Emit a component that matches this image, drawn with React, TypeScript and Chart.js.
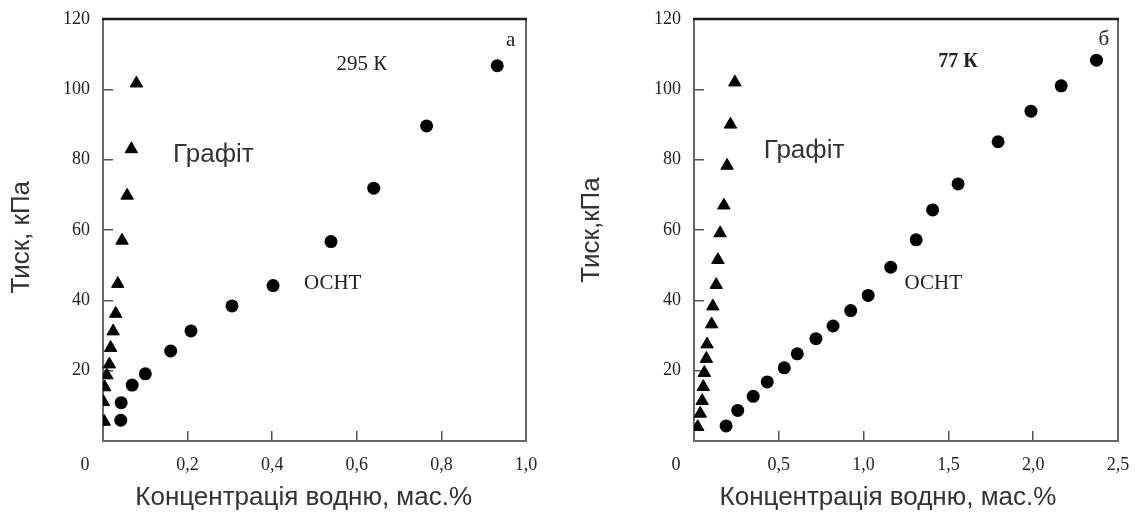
import React, { useEffect, useRef } from 'react';
import { Chart, registerables } from 'chart.js';

Chart.register(...registerables);

// ---- Panel a (295 K) ----
const graphiteA_x = [0.003, 0.001, 0.004, 0.009, 0.015, 0.018, 0.024, 0.030, 0.035, 0.045, 0.057, 0.067, 0.079];
const graphiteA_y = [5.5, 11.1, 15.3, 18.7, 21.8, 26.5, 31.2, 36.2, 44.7, 57.0, 69.8, 83.0, 101.7];
const osntA_x = [0.042, 0.043, 0.069, 0.100, 0.160, 0.208, 0.305, 0.402, 0.539, 0.640, 0.765, 0.932];
const osntA_y = [5.9, 10.9, 15.9, 19.1, 25.6, 31.3, 38.4, 44.2, 56.7, 71.9, 89.6, 106.7];

// ---- Panel б (77 K) ----
const graphiteB_x = [0.022, 0.037, 0.048, 0.055, 0.061, 0.073, 0.077, 0.104, 0.111, 0.131, 0.141, 0.154, 0.176, 0.195, 0.215, 0.241];
const graphiteB_y = [4.0, 7.8, 11.4, 15.4, 19.4, 23.4, 27.5, 33.2, 38.3, 44.4, 51.5, 59.1, 67.0, 78.3, 90.0, 102.0];
const osntB_x = [0.189, 0.258, 0.349, 0.432, 0.532, 0.609, 0.719, 0.820, 0.924, 1.027, 1.160, 1.310, 1.407, 1.557, 1.793, 1.987, 2.165, 2.373];
const osntB_y = [4.3, 8.7, 12.7, 16.8, 20.8, 24.8, 29.1, 32.7, 37.1, 41.4, 49.4, 57.2, 65.7, 73.1, 85.1, 93.8, 101.0, 108.3];

// axis ranges / ticks
const yMax = 120;
const yStep = 20;
const xMaxA = 1.0;
const xStepA = 0.2;
const xMaxB = 2.5;
const xStepB = 0.5;

// axis titles
const xTitle = 'Концентрація водню, мас.%';
const yTitleA = 'Тиск, кПа';
const yTitleB = 'Тиск,кПа';

// annotations: [text, x, y, kind]
const notesA: [string, number, number, string][] = [
  ['295 К', 0.612, 107.2, 'serif'],
  ['а', 0.964, 113.8, 'serif'],
  ['Графіт', 0.261, 81.5, 'sans'],
  ['ОСНТ', 0.543, 44.7, 'serifL'],
];
const notesB: [string, number, number, string][] = [
  ['77 К', 1.557, 107.7, 'serifBold'],
  ['б', 2.416, 114.3, 'serif'],
  ['Графіт', 0.649, 82.4, 'sans'],
  ['ОСНТ', 1.411, 44.7, 'serifL'],
];

const pts = (xs: number[], ys: number[]) => xs.map((x, i) => ({ x, y: ys[i] }));
const fmt = (v: number) => (Math.abs(v) < 1e-9 ? '' : Number(v).toFixed(1).replace('.', ','));

const noteFont: Record<string, string> = {
  serif: '21px "Liberation Serif"',
  serifL: '21px "Liberation Serif"',
  serifBold: 'bold 20px "Liberation Serif"',
  sans: '26px "Liberation Sans"',
};

function makeConfig(p: any) {
  const framePlugin = {
    id: 'frame',
    beforeDatasetsDraw(chart: any) {
      const { ctx, chartArea: a } = chart;
      ctx.save();
      ctx.lineCap = 'butt';
      ctx.strokeStyle = '#666';
      ctx.lineWidth = 2;
      ctx.beginPath();
      ctx.moveTo(a.right, a.top);
      ctx.lineTo(a.right, a.bottom + 1);
      ctx.stroke();
      ctx.strokeStyle = '#1c1c1c';
      ctx.lineWidth = 2.5;
      ctx.beginPath();
      ctx.moveTo(a.left - 1, a.top);
      ctx.lineTo(a.right + 1, a.top);
      ctx.stroke();
      ctx.restore();
    },
  };
  const notesPlugin = {
    id: 'notes',
    afterDatasetsDraw(chart: any) {
      const { ctx } = chart;
      const xs = chart.scales.x;
      const ys = chart.scales.y;
      ctx.save();
      ctx.textAlign = 'center';
      ctx.textBaseline = 'middle';
      for (const [t, x, y, kind] of p.notes) {
        ctx.font = noteFont[kind];
        ctx.fillStyle = kind === 'sans' ? '#333' : '#222';
        ctx.fillText(t, xs.getPixelForValue(x), ys.getPixelForValue(y));
      }
      // shared origin label "0"
      ctx.font = '18px "Liberation Serif"';
      ctx.fillStyle = '#222';
      ctx.fillText('0', xs.getPixelForValue(0) - 18, xs.top + 24);
      ctx.restore();
    },
  };
  return {
    type: 'scatter',
    data: {
      datasets: [
        {
          label: 'Графіт',
          data: pts(p.gx, p.gy),
          pointStyle: 'triangle',
          pointRadius: 7.2,
          backgroundColor: '#000',
          borderColor: '#000',
          borderWidth: 1,
        },
        {
          label: 'ОСНТ',
          data: pts(p.ox, p.oy),
          pointStyle: 'circle',
          pointRadius: 6.5,
          backgroundColor: '#000',
          borderColor: '#000',
          borderWidth: 0,
        },
      ],
    },
    options: {
      animation: false,
      responsive: false,
      events: [],
      layout: { padding: { top: 19, right: p.padRight, bottom: 0, left: 0 } },
      plugins: { legend: { display: false }, tooltip: { enabled: false } },
      scales: {
        x: {
          type: 'linear',
          position: 'bottom',
          min: 0,
          max: p.xMax,
          ticks: {
            stepSize: p.xStep,
            autoSkip: false,
            maxRotation: 0,
            padding: 23,
            color: '#222',
            font: { family: 'Liberation Serif', size: 18 },
            callback: (v: number) => fmt(v),
          },
          grid: { drawOnChartArea: false, drawTicks: true, tickLength: -10, color: '#555', lineWidth: 1.5 },
          border: { display: true, color: '#666', width: 2 },
          title: {
            display: true,
            text: p.xTitle,
            color: '#333',
            font: { family: 'Liberation Sans', size: 26, lineHeight: 1 },
            padding: { top: 0, bottom: 6 },
          },
          afterFit: (s: any) => {
            s.height = 76;
            s.paddingLeft = 0;
            s.paddingRight = 0;
          },
        },
        y: {
          type: 'linear',
          position: 'left',
          min: 0,
          max: yMax,
          ticks: {
            stepSize: yStep,
            padding: 23,
            color: '#222',
            font: { family: 'Liberation Serif', size: 18 },
            callback: (v: number) => (v === 0 ? '' : String(v)),
          },
          grid: { drawOnChartArea: false, drawTicks: true, tickLength: -10, color: '#555', lineWidth: 1.5 },
          border: { display: true, color: '#666', width: 2 },
          title: {
            display: true,
            text: p.yTitle,
            color: '#333',
            font: { family: 'Liberation Sans', size: 26, lineHeight: 1 },
            padding: { top: 9, bottom: 0 },
          },
          afterFit: (s: any) => {
            s.width = p.yWidth;
            s.paddingTop = 0;
            s.paddingBottom = 0;
          },
        },
      },
    },
    plugins: [framePlugin, notesPlugin],
  };
}

export default function App() {
  const leftRef = useRef<HTMLCanvasElement>(null);
  const rightRef = useRef<HTMLCanvasElement>(null);

  useEffect(() => {
    const a = new Chart(
      leftRef.current as HTMLCanvasElement,
      makeConfig({
        gx: graphiteA_x,
        gy: graphiteA_y,
        ox: osntA_x,
        oy: osntA_y,
        xMax: xMaxA,
        xStep: xStepA,
        padRight: 44,
        yWidth: 103,
        xTitle: xTitle + '   ',
        yTitle: yTitleA + '  ',
        notes: notesA,
      }) as any
    );
    const b = new Chart(
      rightRef.current as HTMLCanvasElement,
      makeConfig({
        gx: graphiteB_x,
        gy: graphiteB_y,
        ox: osntB_x,
        oy: osntB_y,
        xMax: xMaxB,
        xStep: xStepB,
        padRight: 23,
        yWidth: 124,
        xTitle: xTitle + '     ',
        yTitle: yTitleB,
        notes: notesB,
      }) as any
    );
    return () => {
      a.destroy();
      b.destroy();
    };
  }, []);

  return (
    <div style={{ position: 'fixed', left: 0, top: 0, width: 1141, height: 517, background: '#fff' }}>
      <canvas ref={leftRef} width={570} height={517} style={{ position: 'absolute', left: 0, top: 0 }} />
      <canvas ref={rightRef} width={571} height={517} style={{ position: 'absolute', left: 570, top: 0 }} />
    </div>
  );
}
